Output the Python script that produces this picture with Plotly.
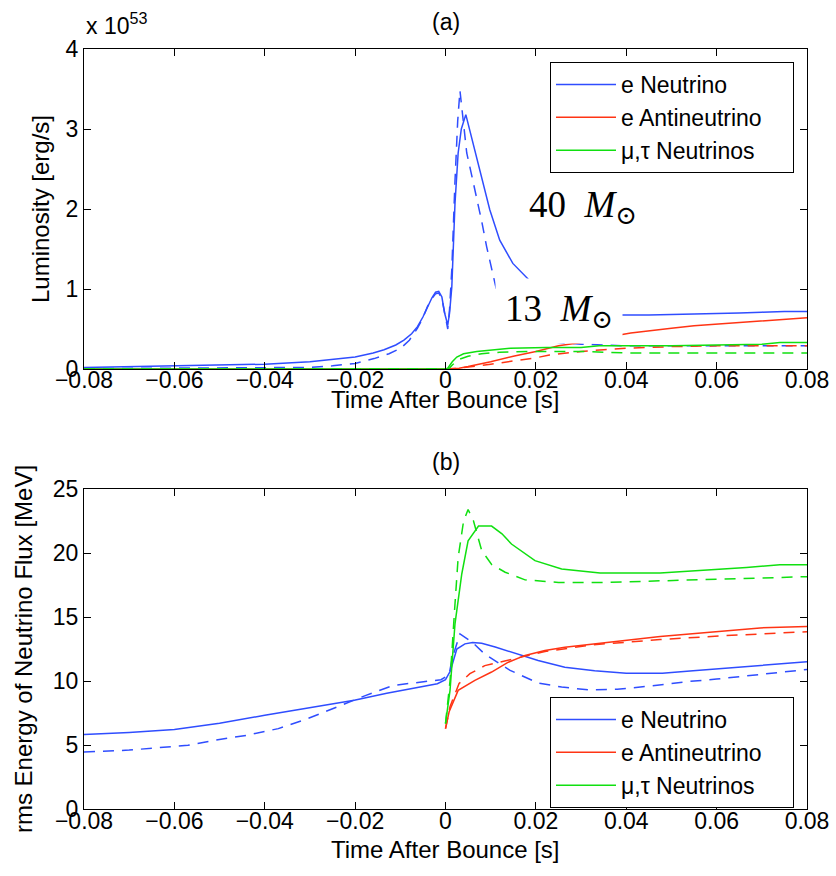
import plotly.graph_objects as go

# ---------------- Panel (a): luminosity (units of 1e53 erg/s) ----------------
t_a_e_solid = [-0.08, -0.07, -0.06, -0.05, -0.04, -0.03, -0.025, -0.02, -0.016, -0.0136, -0.011, -0.0092,
               -0.0075, -0.0062, -0.005, -0.004, -0.003, -0.0022, -0.0015, -0.0008, -0.0002, 0.0005,
               0.0009, 0.0014, 0.0021, 0.0028, 0.0035, 0.0045, 0.0055, 0.0069, 0.0083, 0.0098, 0.012,
               0.0149, 0.0187, 0.022, 0.026, 0.03, 0.035, 0.039, 0.045, 0.05, 0.055, 0.06, 0.065, 0.07,
               0.075, 0.08]
L_a_e_solid = [0.02, 0.03, 0.04, 0.05, 0.06, 0.09, 0.12, 0.15, 0.20, 0.24, 0.30, 0.36,
               0.44, 0.53, 0.65, 0.78, 0.89, 0.96, 0.97, 0.90, 0.70, 0.55,
               0.70, 1.03, 2.07, 2.70, 3.00, 3.18, 2.95, 2.65, 2.30, 1.99, 1.61,
               1.32, 1.10, 0.95, 0.82, 0.74, 0.69, 0.675, 0.675, 0.68, 0.685, 0.69, 0.70, 0.71,
               0.72, 0.72]

t_a_e_dash = [-0.08, -0.06, -0.04, -0.03, -0.025, -0.02, -0.0158, -0.0125, -0.0099, -0.008, -0.0062,
              -0.005, -0.004, -0.003, -0.0022, -0.0015, -0.0008, -0.0002, 0.0005, 0.0009, 0.0014,
              0.0021, 0.0027, 0.0032, 0.0040, 0.0047, 0.0058, 0.0069, 0.008, 0.0091, 0.0102, 0.0112,
              0.013, 0.016, 0.02, 0.025, 0.03, 0.035, 0.04, 0.05, 0.06, 0.07, 0.08]
L_a_e_dash = [0.005, 0.008, 0.015, 0.02, 0.04, 0.07, 0.13, 0.19, 0.26, 0.36, 0.51,
              0.64, 0.78, 0.88, 0.94, 0.95, 0.88, 0.68, 0.50, 0.75, 1.25,
              2.35, 3.10, 3.48, 3.10, 2.70, 2.42, 2.15, 1.85, 1.53, 1.27, 1.01,
              0.75, 0.52, 0.38, 0.33, 0.31, 0.30, 0.29, 0.29, 0.29, 0.29, 0.29]

t_a_anti_solid = [-0.08, 0.0, 0.003, 0.005, 0.01, 0.015, 0.02, 0.025, 0.03, 0.035, 0.041, 0.045, 0.05,
                  0.055, 0.06, 0.065, 0.07, 0.075, 0.08]
L_a_anti_solid = [0.0, 0.0, 0.01, 0.03, 0.09, 0.16, 0.22, 0.29, 0.33, 0.39, 0.45, 0.48, 0.51,
                  0.54, 0.56, 0.58, 0.60, 0.62, 0.64]

t_a_anti_dash = [-0.08, 0.0, 0.003, 0.006, 0.01, 0.015, 0.02, 0.023, 0.027, 0.03, 0.035, 0.04, 0.045,
                 0.05, 0.06, 0.07, 0.08]
L_a_anti_dash = [0.0, 0.0, 0.01, 0.03, 0.06, 0.10, 0.14, 0.175, 0.20, 0.22, 0.24, 0.26, 0.27,
                 0.28, 0.29, 0.29, 0.29]

t_a_mu_solid = [-0.08, 0.0, 0.0005, 0.001, 0.0015, 0.0025, 0.004, 0.0069, 0.01, 0.0143, 0.0224, 0.03,
                0.034, 0.04, 0.05, 0.06, 0.07, 0.074, 0.08]
L_a_mu_solid = [0.0, 0.0, 0.01, 0.05, 0.09, 0.15, 0.19, 0.22, 0.24, 0.26, 0.27, 0.27,
                0.29, 0.29, 0.29, 0.30, 0.31, 0.33, 0.33]

t_a_mu_dash = [-0.08, 0.0007, 0.0015, 0.003, 0.005, 0.008, 0.012, 0.02, 0.03, 0.035, 0.04, 0.05,
               0.06, 0.07, 0.08]
L_a_mu_dash = [0.0, 0.0, 0.05, 0.12, 0.16, 0.19, 0.21, 0.22, 0.22, 0.21, 0.20, 0.20,
               0.20, 0.20, 0.20]

# ---------------- Panel (b): rms energy (MeV) ----------------
t_b_e_solid = [-0.08, -0.07, -0.06, -0.05, -0.04, -0.03, -0.0202, -0.013, -0.0062, -0.0018, 0.0,
               0.0011, 0.0025, 0.0043, 0.006, 0.008, 0.011, 0.0146, 0.0205, 0.0264, 0.033, 0.04,
               0.048, 0.0548, 0.062, 0.07, 0.08]
E_b_e_solid = [5.82, 5.98, 6.21, 6.70, 7.32, 7.90, 8.49, 9.05, 9.53, 9.79, 10.1,
               10.8, 12.5, 12.9, 13.0, 12.95, 12.65, 12.25, 11.6, 11.08, 10.8, 10.6,
               10.6, 10.8, 11.0, 11.2, 11.5]

t_b_e_dash = [-0.08, -0.07, -0.064, -0.057, -0.051, -0.044, -0.037, -0.0305, -0.024, -0.0176,
              -0.0115, -0.005, -0.001, 0.0008, 0.0015, 0.0032, 0.006, 0.0087, 0.0143, 0.0205,
              0.0257, 0.0319, 0.038, 0.0452, 0.0534, 0.06, 0.07, 0.08]
E_b_e_dash = [4.46, 4.60, 4.78, 4.98, 5.37, 5.76, 6.28, 7.06, 7.97, 8.88,
              9.66, 9.91, 10.1, 10.5, 11.8, 13.68, 13.0, 12.1, 10.83, 9.84,
              9.53, 9.30, 9.35, 9.60, 9.95, 10.15, 10.5, 10.9]

t_b_anti_solid = [0.0, 0.0008, 0.0028, 0.0065, 0.0102, 0.0139, 0.0176, 0.022, 0.0264, 0.0364,
                  0.0475, 0.0585, 0.0696, 0.08]
E_b_anti_solid = [6.28, 7.6, 9.27, 10.05, 10.7, 11.47, 12.0, 12.38, 12.64, 13.03,
                  13.47, 13.8, 14.15, 14.25]

t_b_anti_dash = [0.0, 0.001, 0.003, 0.0054, 0.0087, 0.015, 0.022, 0.0327, 0.040, 0.0475, 0.0622,
                 0.0762, 0.08]
E_b_anti_dash = [6.28, 8.0, 9.8, 10.57, 11.2, 11.7, 12.3, 12.83, 13.03, 13.24, 13.55,
                 13.8, 13.85]

t_b_mu_solid = [0.0, 0.001, 0.0021, 0.0036, 0.005, 0.0073, 0.0102, 0.0125, 0.0146, 0.0198, 0.0257,
                0.0342, 0.0475, 0.0585, 0.0666, 0.074, 0.08]
E_b_mu_solid = [6.67, 9.27, 14.46, 18.36, 20.95, 22.1, 22.1, 21.5, 20.7, 19.4, 18.75,
                18.43, 18.43, 18.67, 18.87, 19.08, 19.08]

t_b_mu_dash = [0.0, 0.001, 0.002, 0.0028, 0.004, 0.005, 0.0062, 0.0073, 0.008, 0.0102, 0.0132,
               0.0176, 0.025, 0.035, 0.0475, 0.0622, 0.071, 0.08]
E_b_mu_dash = [6.67, 10.0, 15.5, 19.65, 22.5, 23.4, 22.5, 21.2, 20.2, 19.1, 18.5,
               17.9, 17.7, 17.7, 17.83, 17.97, 18.05, 18.15]

x_tickvals = [-0.08, -0.06, -0.04, -0.02, 0, 0.02, 0.04, 0.06, 0.08]
x_ticktext = ["\u22120.08", "\u22120.06", "\u22120.04", "\u22120.02", "0", "0.02", "0.04", "0.06", "0.08"]
series_names = ["e Neutrino", "e Antineutrino", "\u03bc,\u03c4 Neutrinos"]

BLUE = "#2f4dff"
RED = "#ff3414"
GREEN = "#10e010"
COLORS = [BLUE, RED, GREEN]
FONT = "Liberation Sans, Arial, sans-serif"
DASH = "11px,8px"
LEG_PAD = "\u00a0" * 4  # extra right padding inside the legend box

fig = go.Figure()

panel_a = [(t_a_e_solid, L_a_e_solid, t_a_e_dash, L_a_e_dash),
           (t_a_anti_solid, L_a_anti_solid, t_a_anti_dash, L_a_anti_dash),
           (t_a_mu_solid, L_a_mu_solid, t_a_mu_dash, L_a_mu_dash)]
panel_b = [(t_b_e_solid, E_b_e_solid, t_b_e_dash, E_b_e_dash),
           (t_b_anti_solid, E_b_anti_solid, t_b_anti_dash, E_b_anti_dash),
           (t_b_mu_solid, E_b_mu_solid, t_b_mu_dash, E_b_mu_dash)]

for (ts, ys, td, yd), name, col in zip(panel_a, series_names, COLORS):
    fig.add_trace(go.Scatter(x=ts, y=ys, mode="lines", name=name + LEG_PAD, line=dict(color=col, width=1.5),
                             xaxis="x", yaxis="y", legend="legend"))
    fig.add_trace(go.Scatter(x=td, y=yd, mode="lines", name=name, showlegend=False,
                             line=dict(color=col, width=1.5, dash=DASH), xaxis="x", yaxis="y"))

for (ts, ys, td, yd), name, col in zip(panel_b, series_names, COLORS):
    fig.add_trace(go.Scatter(x=ts, y=ys, mode="lines", name=name + LEG_PAD, line=dict(color=col, width=1.5),
                             xaxis="x2", yaxis="y2", legend="legend2"))
    fig.add_trace(go.Scatter(x=td, y=yd, mode="lines", name=name, showlegend=False,
                             line=dict(color=col, width=1.5, dash=DASH), xaxis="x2", yaxis="y2"))

axis_common = dict(showline=True, linecolor="black", linewidth=1, mirror="ticks", ticks="inside",
                   ticklen=7, tickcolor="black", tickwidth=1, showgrid=False, zeroline=False,
                   tickfont=dict(family=FONT, size=23, color="black"), automargin=False,
                   ticklabeloverflow="allow")

W, H = 836, 876
ML, MR, MT, MB = 84, 29, 49, 67
plot_h = H - MT - MB  # 760
plot_w = W - ML - MR  # 723
top_dom = [(809 - 369) / 760, 1.0]
bot_dom = [0.0, (809 - 489) / 760]

TITLE_FONT = dict(size=24, family=FONT, color="black")
LEG_FONT = dict(family=FONT, size=23, color="black")

legend_common = dict(xanchor="left", yanchor="top", bgcolor="white", bordercolor="black",
                     borderwidth=1, font=LEG_FONT, itemwidth=60, tracegroupgap=0)

fig.update_layout(
    width=W, height=H,
    margin=dict(l=ML, r=MR, t=MT, b=MB, autoexpand=False),
    paper_bgcolor="white", plot_bgcolor="white",
    font=dict(family=FONT, color="black"),
    showlegend=True,
    xaxis=dict(axis_common, domain=[0, 1], anchor="y", range=[-0.08, 0.08],
               tickvals=x_tickvals, ticktext=x_ticktext, ticklabelstandoff=-10),
    yaxis=dict(axis_common, domain=top_dom, anchor="x", range=[0, 4], tickvals=[0, 1, 2, 3, 4],
               title=dict(text="Luminosity [erg/s]", font=TITLE_FONT, standoff=9)),
    xaxis2=dict(axis_common, domain=[0, 1], anchor="y2", range=[-0.08, 0.08],
                tickvals=x_tickvals, ticktext=x_ticktext, ticklabelstandoff=-9),
    yaxis2=dict(axis_common, domain=bot_dom, anchor="x2", range=[0, 25], tickvals=[0, 5, 10, 15, 20, 25],
                title=dict(text="rms Energy of Neutrino Flux [MeV]", font=TITLE_FONT, standoff=13)),
    legend=dict(legend_common, x=(550 - 84) / plot_w, y=(809 - 62) / plot_h),
    legend2=dict(legend_common, x=(550 - 84) / plot_w, y=(809 - 697) / plot_h),
)

# x-axis titles placed tight under the tick labels, as in the reference
fig.add_annotation(text="Time After Bounce [s]", xref="paper", yref="paper", x=0.5, y=top_dom[0],
                   yanchor="middle", yshift=-30, showarrow=False, font=TITLE_FONT)
fig.add_annotation(text="Time After Bounce [s]", xref="paper", yref="paper", x=0.5, y=0,
                   yanchor="middle", yshift=-40, showarrow=False, font=TITLE_FONT)

SERIF = "Liberation Serif, DejaVu Serif, serif"
fig.add_annotation(text="(a)", xref="paper", yref="paper", x=0.5, y=1.0, yanchor="bottom", yshift=12,
                   showarrow=False, font=dict(family=FONT, size=23))
fig.add_annotation(text="(b)", xref="paper", yref="paper", x=0.5, y=bot_dom[1], yanchor="bottom",
                   yshift=12, showarrow=False, font=dict(family=FONT, size=23))
fig.add_annotation(text="x 10<sup>53</sup>", xref="paper", yref="paper", x=0, y=1.0, xanchor="left",
                   yanchor="bottom", yshift=8, showarrow=False, font=dict(family=FONT, size=23))
fig.add_annotation(text="40\u00a0\u00a0<i>M</i><sub>\u2299</sub>", xref="x", yref="y", x=0.0305, y=2.03,
                   showarrow=False, font=dict(family=SERIF, size=37), bgcolor="white",
                   width=130, height=52)
fig.add_annotation(text="13\u00a0\u00a0<i>M</i><sub>\u2299</sub>", xref="x", yref="y", x=0.0251, y=0.725,
                   showarrow=False, font=dict(family=SERIF, size=37), bgcolor="white",
                   width=124, height=62)

fig.write_html("out.html", config={"displayModeBar": False},
               post_script="document.body.style.margin='0px';")
